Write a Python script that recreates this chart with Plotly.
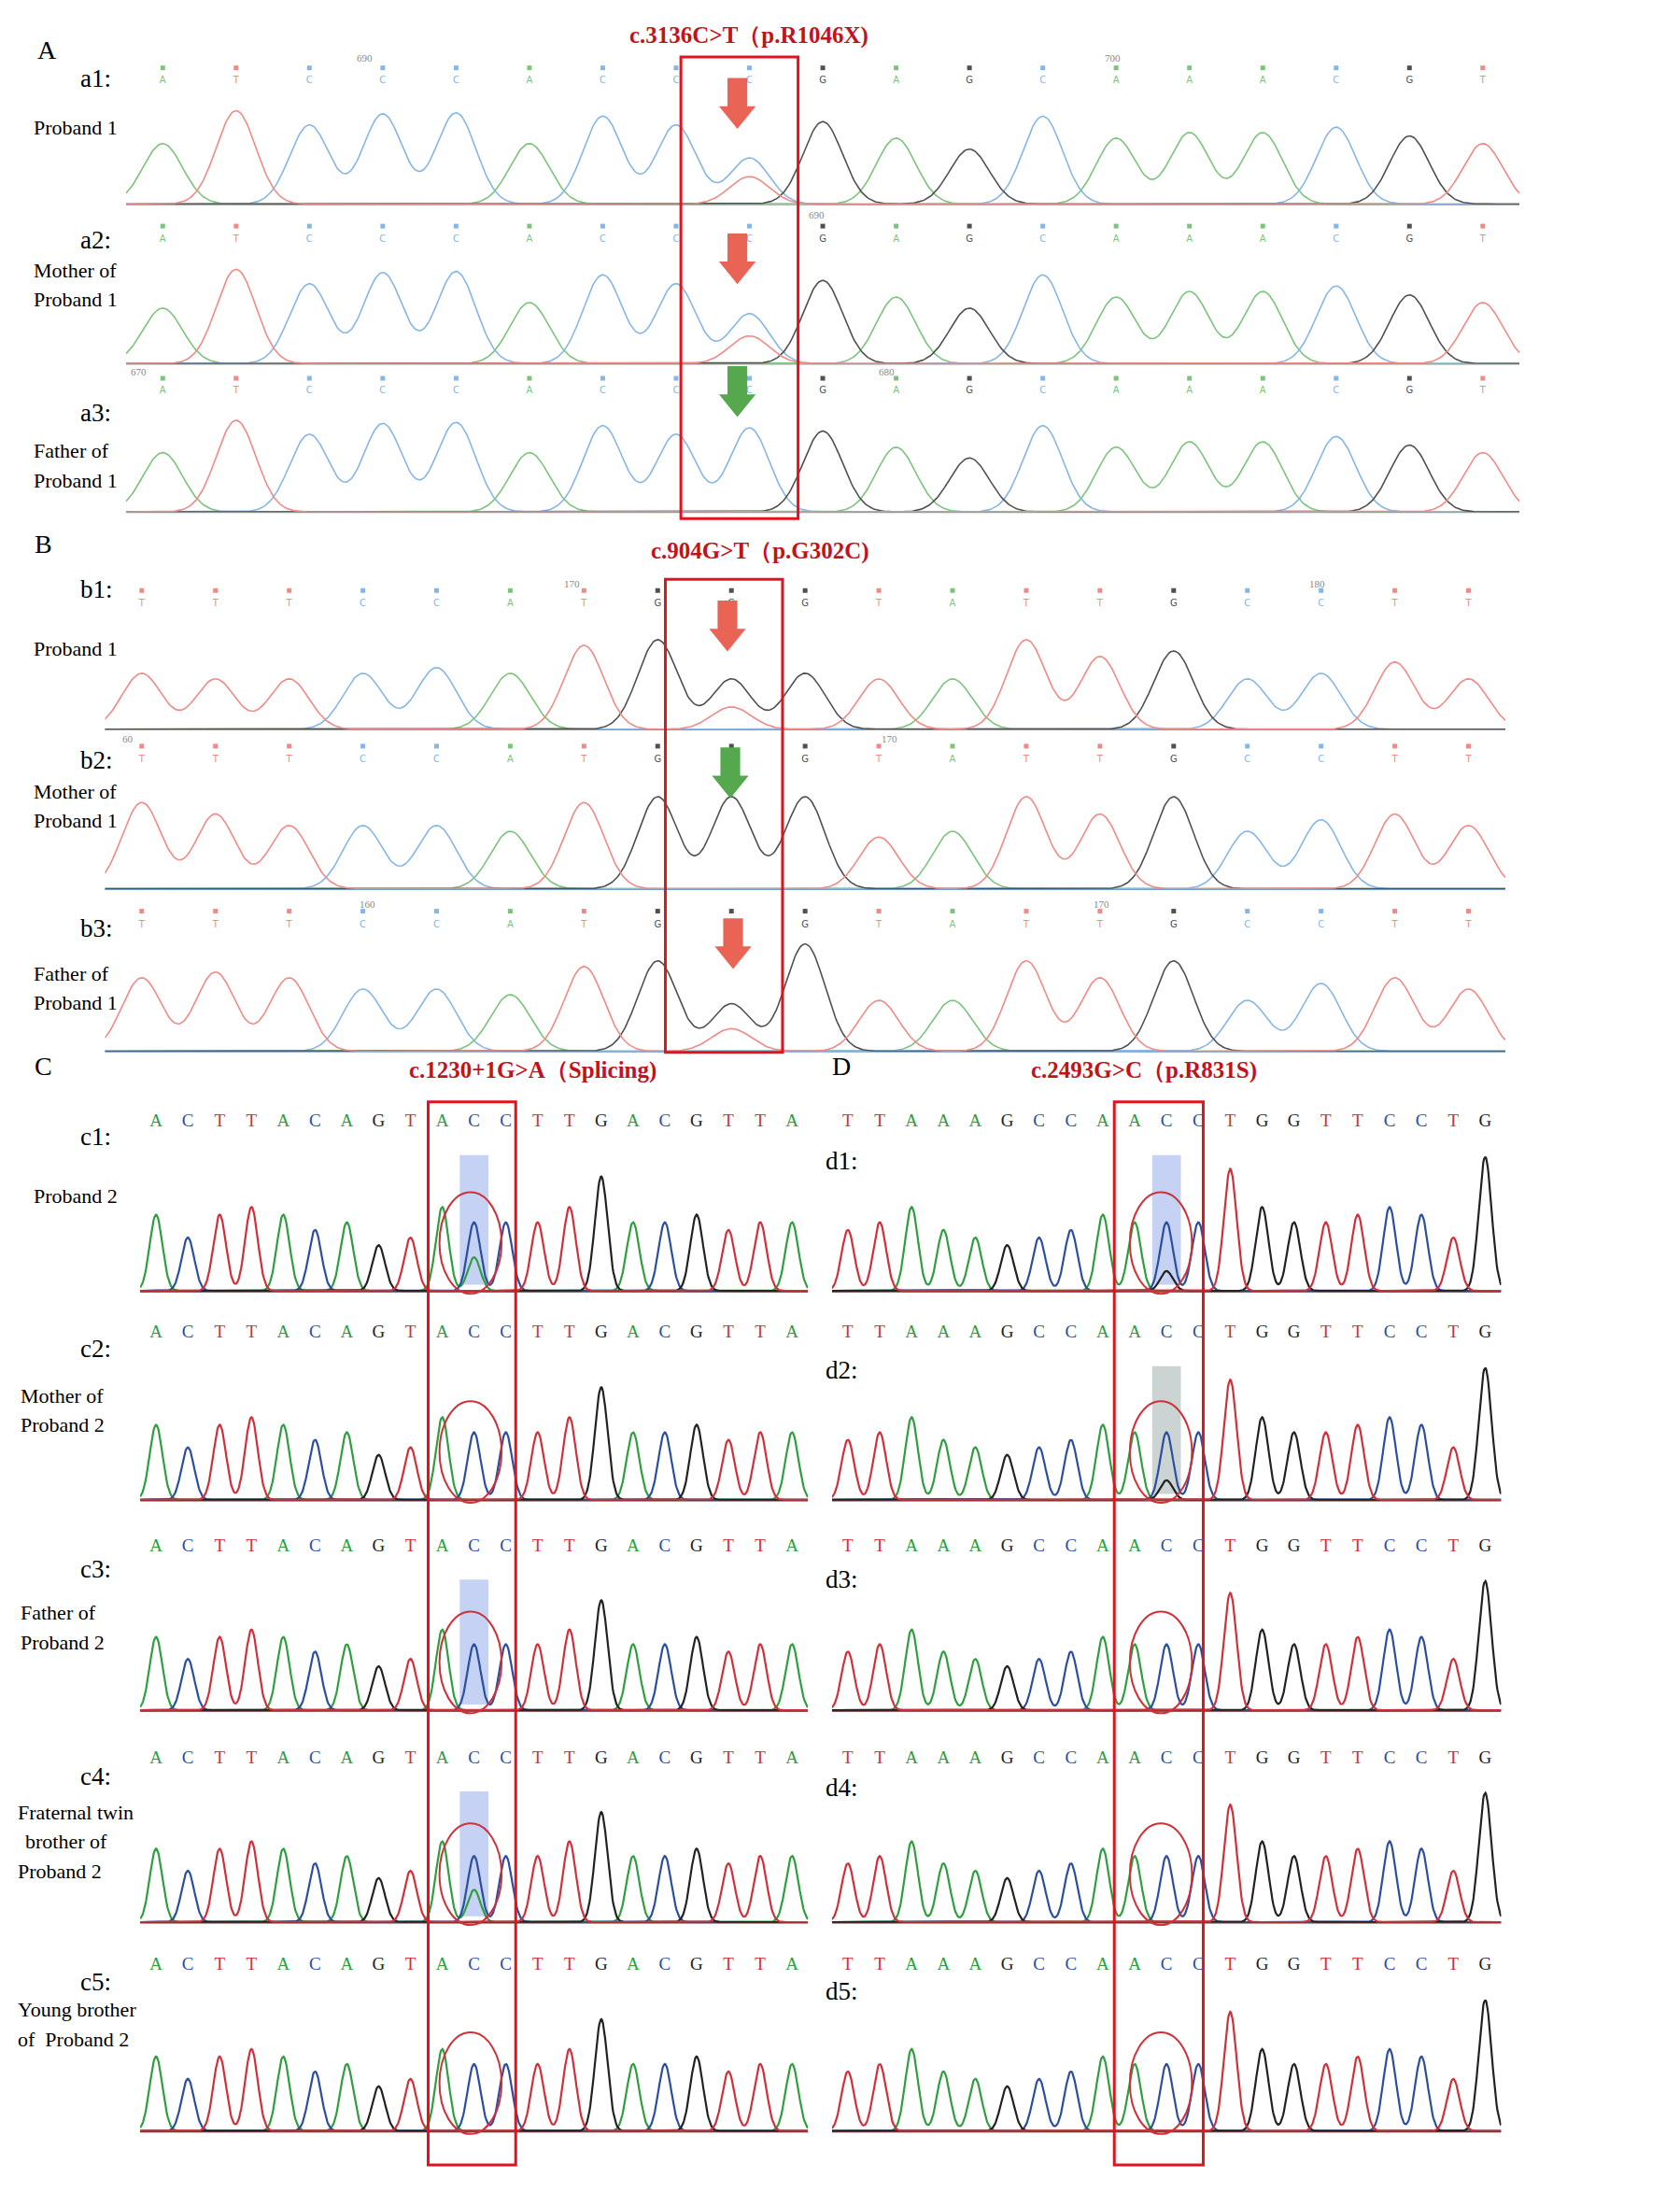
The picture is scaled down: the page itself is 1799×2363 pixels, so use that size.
import numpy as np
import plotly.graph_objects as go

W0, H0 = 1190.0, 1563.0
def px(x): return x / W0
def py(y): return 1 - y / H0

# ---------------- data ----------------
seqA = list("ATCCCACCCGAGCAAACGT")
hA1 = [.55,.85,.72,.82,.83,.55,.8,.72,.42,.75,.6,.5,.8,.6,.65,.65,.7,.62,.55]
hA2 = [.5,.85,.72,.82,.83,.55,.8,.72,.45,.75,.6,.5,.8,.6,.65,.65,.7,.62,.55]
hA3 = [.55,.85,.72,.82,.83,.55,.8,.72,.78,.75,.6,.5,.8,.6,.65,.65,.7,.62,.55]
mutA = 8
secA = {"a1": ("T", .25), "a2": ("T", .25), "a3": None}

seqB = list("TTTCCATGGGTATTGCCTT")
hB1 = [.5,.45,.45,.5,.55,.5,.75,.8,.45,.5,.45,.45,.8,.65,.7,.45,.5,.6,.45]
hB2 = [.75,.65,.55,.55,.55,.5,.75,.8,.8,.8,.45,.5,.8,.65,.8,.5,.6,.65,.55]
hB3 = [.65,.7,.65,.55,.55,.5,.75,.8,.42,.95,.45,.45,.8,.65,.8,.45,.6,.65,.55]
mutB = 8
secB = {"b1": ("T", .2), "b2": None, "b3": ("T", .2)}

seqC = list("ACTTACAGTACCTTGACGTTA")
hC = [.5,.35,.5,.55,.5,.4,.45,.3,.35,.55,.45,.45,.45,.55,.75,.45,.45,.5,.4,.45,.45]
mutC = 10
secC = {"c1": ("A", .22), "c2": None, "c3": None, "c4": ("A", .22), "c5": None}

seqD = list("TTAAAGCCAACCTGGTTCCTG")
hD = [.4,.45,.55,.4,.35,.3,.35,.4,.5,.45,.45,.45,.8,.55,.45,.45,.5,.55,.5,.35,.88]
mutD = 10
secD = {"d1": ("G", .13), "d2": ("G", .13), "d3": None, "d4": None, "d5": None}

lightcol = {"A": "#7cc47c", "T": "#f08a86", "C": "#86b6e6", "G": "#505050"}
darkcol = {"A": "#2e9e3e", "T": "#d0303a", "C": "#2b4fa0", "G": "#222222"}

panels = [
    ("a1", seqA, hA1, mutA, secA["a1"], 84, 1071, 35, 140, "AB"),
    ("a2", seqA, hA2, mutA, secA["a2"], 84, 1071, 147, 253, "AB"),
    ("a3", seqA, hA3, mutA, secA["a3"], 84, 1071, 255, 358, "AB"),
    ("b1", seqB, hB1, mutB, secB["b1"], 69, 1061, 405, 512, "AB"),
    ("b2", seqB, hB2, mutB, secB["b2"], 69, 1061, 515, 625, "AB"),
    ("b3", seqB, hB3, mutB, secB["b3"], 69, 1061, 632, 740, "AB"),
]
cb = [(775, 910), (925, 1058), (1077, 1207), (1227, 1357), (1373, 1505)]
for i, (t, b) in enumerate(cb):
    n = f"c{i+1}"
    panels.append((n, seqC, hC, mutC, secC[n], 94, 567, t, b, "CD"))
for i, (t, b) in enumerate(cb):
    n = f"d{i+1}"
    panels.append((n, seqD, hD, mutD, secD[n], 584, 1058, t, b, "CD"))

fig = go.Figure()
shapes, annots = [], []
layout_axes = {}

for k, (name, seq, hts, mut, sec, x0, x1, top, base, style) in enumerate(panels, start=1):
    xa, ya = f"x{k}", f"y{k}"
    n = len(seq)
    cols = lightcol if style == "AB" else darkcol
    sig = 0.27 if style == "AB" else 0.2
    ytop = 1.35 if style == "AB" else 1.25
    xs = np.linspace(-0.5, n - 0.5, 900)
    peaks = {b: [] for b in "ACGT"}
    for i, (b, h) in enumerate(zip(seq, hts)):
        peaks[b].append((i, h))
    if sec:
        peaks[sec[0]].append((mut, sec[1]))
    if style == "CD" and name in ("c1", "c3", "c4", "d1", "d2"):
        shapes.append(dict(type="rect", xref=xa, yref=ya, x0=mut - 0.45, x1=mut + 0.45,
                           y0=0.05, y1=0.9, fillcolor="#9fb4ec" if name != "d2" else "#a9b7b5",
                           opacity=0.6, line_width=0, layer="below"))
    for b in "ACGT":
        ysum = np.zeros_like(xs)
        for (c, h) in peaks[b]:
            ysum += h * np.exp(-0.5 * ((xs - c) / sig) ** 2)
        fig.add_trace(go.Scatter(x=xs, y=ysum + 0.01, mode="lines", xaxis=xa, yaxis=ya,
                                 line=dict(color=cols[b], width=1.6 if style == "AB" else 2.2),
                                 showlegend=False, hoverinfo="skip"))
    bcol = {"a": "#9a9a9a", "b": "#7aa0d0", "c": "#7a3030", "d": "#7a3030"}[name[0]]
    fig.add_trace(go.Scatter(x=[-0.5, n - 0.5], y=[0, 0], mode="lines", xaxis=xa, yaxis=ya,
                             line=dict(color=bcol, width=2), showlegend=False, hoverinfo="skip"))
    idx = list(range(n))
    if style == "AB":
        fig.add_trace(go.Scatter(x=idx, y=[1.25] * n, mode="markers", xaxis=xa, yaxis=ya,
                                 marker=dict(symbol="square", size=5, color=[cols[b] for b in seq]),
                                 showlegend=False, hoverinfo="skip", cliponaxis=False))
        fig.add_trace(go.Scatter(x=idx, y=[1.13] * n, mode="text", text=seq, xaxis=xa, yaxis=ya,
                                 textfont=dict(size=10, color=[cols[b] for b in seq], family="DejaVu Sans"),
                                 showlegend=False, hoverinfo="skip", cliponaxis=False))
    else:
        fig.add_trace(go.Scatter(x=idx, y=[1.12] * n, mode="text", text=seq, xaxis=xa, yaxis=ya,
                                 textfont=dict(size=19, color=[cols[b] for b in seq], family="Liberation Serif"),
                                 showlegend=False, hoverinfo="skip", cliponaxis=False))
    sfx = "" if k == 1 else str(k)
    layout_axes["xaxis" + sfx] = dict(domain=[px(x0), px(x1)], range=[-0.5, n - 0.5], visible=False,
                                     anchor=ya)
    layout_axes["yaxis" + sfx] = dict(domain=[py(base), py(top)], range=[0, ytop], visible=False,
                                     anchor=xa)

for (x0, y0, x1, y1) in [(477, 35, 560, 362), (466, 405, 549, 740), (298, 775, 360, 1528), (784, 775, 847, 1528)]:
    shapes.append(dict(type="rect", xref="paper", yref="paper", x0=px(x0), x1=px(x1),
                       y0=py(y1), y1=py(y0), line=dict(color="#e0141e", width=3)))
for cx in (328, 817):
    for (t, b) in cb:
        cy = b - 35
        shapes.append(dict(type="circle", xref="paper", yref="paper", x0=px(cx - 22), x1=px(cx + 22),
                           y0=py(cy + 36), y1=py(cy - 36), line=dict(color="#d03038", width=2)))

def arrow(cx, ytop, color):
    pts = [(cx - 7, ytop), (cx + 7, ytop), (cx + 7, ytop + 20), (cx + 13, ytop + 20),
           (cx, ytop + 36), (cx - 13, ytop + 20), (cx - 7, ytop + 20)]
    path = "M " + " L ".join(f"{px(x):.5f},{py(y):.5f}" for x, y in pts) + " Z"
    shapes.append(dict(type="path", xref="paper", yref="paper", path=path, fillcolor=color, line_width=0))
red, green = "#ea6456", "#55a84e"
arrow(517, 50, red); arrow(517, 160, red); arrow(517, 254, green)
arrow(510, 420, red); arrow(512, 524, green); arrow(514, 645, red)

def txt(x, y, s, size=17, color="black", bold=False, anchor="left"):
    annots.append(dict(xref="paper", yref="paper", x=px(x), y=py(y), text=f"<b>{s}</b>" if bold else s,
                       showarrow=False, xanchor=anchor, yanchor="middle",
                       font=dict(family="Liberation Serif", size=size, color=color), align="left"))

S = 1799 / W0
titles = [(525, 20, "c.3136C>T（p.R1046X)"), (533, 385, "c.904G>T（p.G302C)"),
          (372, 753, "c.1230+1G>A（Splicing)"), (805, 753, "c.2493G>C（p.R831S)")]
for x, y, s in titles:
    txt(x, y, s, size=int(17 * S), color="#c0141c", bold=True, anchor="center")
for x, y, s in [(20, 30, "A"), (18, 380, "B"), (18, 750, "C"), (583, 750, "D")]:
    txt(x, y, s, size=int(19 * S))
labels = [(50, 50, "a1:"), (17, 85, "Proband 1"), (50, 165, "a2:"), (17, 186, "Mother of"), (17, 207, "Proband 1"),
          (50, 287, "a3:"), (17, 314, "Father of"), (17, 335, "Proband 1"),
          (50, 412, "b1:"), (17, 454, "Proband 1"), (50, 533, "b2:"), (17, 555, "Mother of"), (17, 576, "Proband 1"),
          (50, 652, "b3:"), (17, 684, "Father of"), (17, 705, "Proband 1"),
          (50, 800, "c1:"), (17, 842, "Proband 2"), (50, 950, "c2:"), (8, 983, "Mother of"), (8, 1004, "Proband 2"),
          (50, 1106, "c3:"), (8, 1137, "Father of"), (8, 1158, "Proband 2"), (50, 1253, "c4:"),
          (6, 1278, "Fraternal twin"), (11, 1299, "brother of"), (6, 1320, "Proband 2"), (50, 1398, "c5:"),
          (6, 1418, "Young brother"), (6, 1439, "of  Proband 2"),
          (578, 817, "d1:"), (578, 965, "d2:"), (578, 1113, "d3:"), (578, 1261, "d4:"), (578, 1405, "d5:")]
for x, y, s in labels:
    txt(x, y, s, size=int((18 if s.endswith(":") else 15) * S))
for x, y, s in [(253, 36, "690"), (783, 36, "700"), (573, 147, "690"), (93, 258, "670"), (623, 258, "680"),
                (400, 408, "170"), (928, 408, "180"), (85, 518, "60"), (625, 518, "170"),
                (255, 635, "160"), (775, 635, "170")]:
    txt(x, y, s, size=11, color="#888888", anchor="center")

fig.update_layout(width=1799, height=2363, margin=dict(l=0, r=0, t=0, b=0),
                  plot_bgcolor="white", paper_bgcolor="white", shapes=shapes, annotations=annots,
                  **layout_axes)
fig.write_html("out.html")
